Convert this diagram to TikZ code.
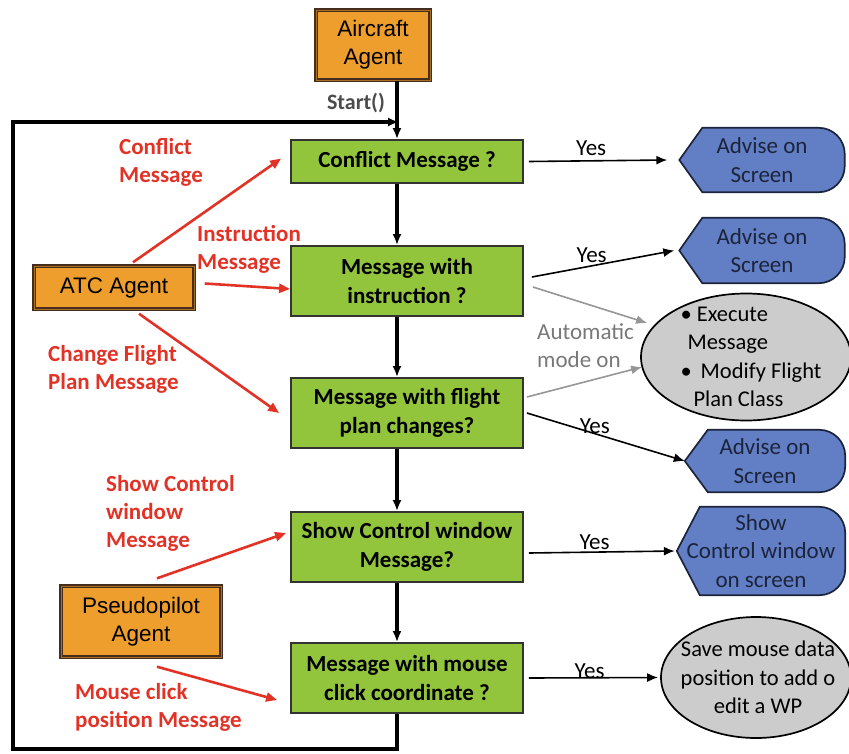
\documentclass[tikz,border=0pt]{standalone}
\usepackage{fontspec}
\setmainfont{Carlito}
\newfontfamily\arialfont{Liberation Sans}
\usepackage{tikz}
\usetikzlibrary{shapes, arrows.meta, positioning, calc, backgrounds}

\definecolor{agentorange}{RGB}{238,158,44}
\definecolor{agentborder}{RGB}{70,45,30}
\definecolor{testgreen}{RGB}{146,196,60}
\definecolor{advblue}{RGB}{98,126,196}
\definecolor{advtext}{RGB}{28,36,60}
\definecolor{msgred}{RGB}{226,50,38}
\definecolor{autogray}{RGB}{150,150,150}

% outline of the display shapes (pointed left, rounded right)
\newcommand{\displayoutline}[1]{%
  \filldraw[displayfill] (#1.west) -- ([xshift=23pt]#1.north west)
    [rounded corners=26pt] -- (#1.north east) -- (#1.south east)
    [sharp corners] -- ([xshift=23pt]#1.south west) -- cycle;}

\begin{document}
\begin{tikzpicture}[
			x=1pt, y=-1pt,
			>={Latex[length=11pt,width=9pt]},
			agent/.style={draw=agentborder, line width=1.4pt, double=agentorange!70!black, double distance=1pt, fill=agentorange, align=center, font=\arialfont\fontsize{22.5}{28}\selectfont, inner sep=2pt},
			test/.style={draw=black!80, line width=1.8pt, fill=testgreen, align=center, minimum width=232pt, minimum height=70pt, font=\fontsize{23}{28.5}\selectfont\bfseries},
			advise/.style={align=center, font=\fontsize{23}{28.5}\selectfont, text=advtext, inner sep=0pt},
			displayfill/.style={draw=advtext, line width=1.7pt, fill=advblue},
			action/.style={draw=black, ellipse, line width=1.7pt, fill=black!20},
			actiontext/.style={font=\fontsize{22.5}{28.5}\selectfont, inner sep=0pt},
			msg/.style={align=left, anchor=west, text=msgred, font=\fontsize{23}{28}\selectfont\bfseries, inner sep=0pt},
			msgarrow/.style={->, draw=msgred, line width=2.6pt, >={Triangle[length=11pt,width=9pt]}},
			yesarrow/.style={->, line width=1.6pt},
			autoarrow/.style={->, draw=autogray, line width=1.6pt},
			flow/.style={->, line width=3.2pt},
			yes/.style={font=\fontsize{23}{26}\selectfont, inner sep=2pt}
			]
			\useasboundingbox (0,0) rectangle (849,753);
			
			% --- Agenci ---
			\node[agent, minimum width=114pt, minimum height=70pt] (aircraft) at (373,45) {Aircraft\\Agent};
			\node[agent, minimum width=160pt, minimum height=43pt] (atc) at (114,287.5) {ATC Agent};
			\node[agent, minimum width=160pt, minimum height=71pt] (pseudo) at (141,621.5) {Pseudopilot\\Agent};
			
			% --- Bloki decyzyjne ---
			\node[test, minimum height=43pt] (conflict) at (407,161.5) {Conflict Message ?};
			\node[test] (instr) at (407,281) {Message with\\instruction ?};
			\node[test] (flight) at (407,413) {Message with flight\\plan changes?};
			\node[test] (show) at (407,547) {Show Control window\\Message?};
			\node[test] (mouse) at (407,678) {Message with mouse\\click coordinate ?};
			
			% --- Wyniki ---
			\node[advise, minimum width=165pt, minimum height=64pt] (adv1) at (762,160) {Advise on\\Screen};
			\node[advise, minimum width=165pt, minimum height=65pt] (adv2) at (762,250.5) {Advise on\\Screen};
			\node[advise, minimum width=160pt, minimum height=62pt] (adv3) at (765,461) {Advise on\\Screen};
			\node[advise, minimum width=168pt, minimum height=88pt] (showctrl) at (761,551) {Show\\Control window\\on screen};
			\begin{scope}[on background layer]
				\displayoutline{adv1}
				\displayoutline{adv2}
				\displayoutline{adv3}
				\displayoutline{showctrl}
			\end{scope}
			\node[action, minimum width=210pt, minimum height=127pt, label={[actiontext, align=left, xshift=5pt]center:{• Execute\\\hspace{7pt}Message\\•\hspace{9pt}Modify Flight\\\hspace{13pt}Plan Class}}] (execute) at (746,357) {};
			\node[action, minimum width=190pt, minimum height=121pt, label={[actiontext, align=center, xshift=2pt]center:{Save mouse data\\position to add o\\edit a WP}}] (savemouse) at (756,677.5) {};
			
			% --- Etykiety komunikatów ---
			\node[msg] (conflictlbl) at (119,162) {Conflict\\Message};
			\node[msg] (instrlbl) at (197,249) {Instruction\\Message};
			\node[msg] (changelbl) at (48,369) {Change Flight\\Plan Message};
			\node[msg] (showlbl) at (106,513) {Show Control\\window\\Message};
			\node[msg] (mouselbl) at (75,707) {Mouse click\\position Message};
			\node[font=\fontsize{22}{24}\selectfont\bfseries, text=black!70] (startlbl) at (356,103) {Start()};
			\node[align=left, anchor=west, text=autogray!80!black, font=\fontsize{23}{28}\selectfont, inner sep=0pt] (automode) at (537,346) {Automatic\\mode on};
			
			% --- Przepływ główny ---
			\draw[flow] ([xshift=24pt]aircraft.south) -- ([xshift=-10pt]conflict.north);
			\draw[flow] ([xshift=-10pt]conflict.south) -- ([xshift=-10pt]instr.north);
			\draw[flow] ([xshift=-10pt]instr.south) -- ([xshift=-10pt]flight.north);
			\draw[flow] ([xshift=-10pt]flight.south) -- ([xshift=-10pt]show.north);
			\draw[flow] ([xshift=-10pt]show.south) -- ([xshift=-10pt]mouse.north);
			
			% --- Pętla powrotna ---
			\coordinate (loopbl) at (13,749);
			\coordinate (loopjoin) at (399,122);
			\draw[flow] ([xshift=-10pt]mouse.south) |- (loopbl) |- (loopjoin);
			
			% --- Komunikaty od agentów ---
			\draw[msgarrow] ([xshift=19pt,yshift=3pt]atc.north) -- ([xshift=-9pt,yshift=3pt]conflict.west);
			\draw[msgarrow] ([xshift=10pt,yshift=4pt]atc.east) -- ([yshift=-8pt]instr.west);
			\draw[msgarrow] ([xshift=25pt,yshift=-4pt]atc.south) -- ([xshift=-11pt]flight.west);
			\draw[msgarrow] ([xshift=16pt,yshift=7pt]pseudo.north) -- ([xshift=-4pt,yshift=14pt]show.west);
			\draw[msgarrow] ([xshift=16pt,yshift=-9pt]pseudo.south) -- ([xshift=-13pt,yshift=-22pt]mouse.west);
			
			% --- Odpowiedzi "Yes" ---
			\draw[yesarrow] ([xshift=5pt]conflict.east) -- node[yes, pos=0.45, above=2pt] {Yes} ([xshift=-12pt]adv1.west);
			\draw[yesarrow] ([xshift=8pt,yshift=4pt]instr.east) -- node[yes, pos=0.42, above=0pt] {Yes} ([xshift=-5pt]adv2.west);
			\draw[yesarrow] ([xshift=3pt]flight.east) -- node[yes, pos=0.43, above=-3pt] {Yes} (adv3.west);
			\draw[yesarrow] ([xshift=5pt,yshift=-6pt]show.east) -- node[yes, pos=0.45, above=0pt] {Yes} ([xshift=-2pt]showctrl.west);
			\draw[yesarrow] ([xshift=5pt]mouse.east) -- node[yes, pos=0.47, above=-4pt] {Yes} ([xshift=-2pt]savemouse.west);
			
			% --- Tryb automatyczny ---
			\draw[autoarrow] ([xshift=9pt,yshift=-6pt]instr.east) -- ([xshift=7pt,yshift=34pt]execute.west);
			\draw[autoarrow] ([xshift=3pt,yshift=16pt]flight.east) -- ([xshift=2pt,yshift=-10pt]execute.west);
			
		\end{tikzpicture}
\end{document}
